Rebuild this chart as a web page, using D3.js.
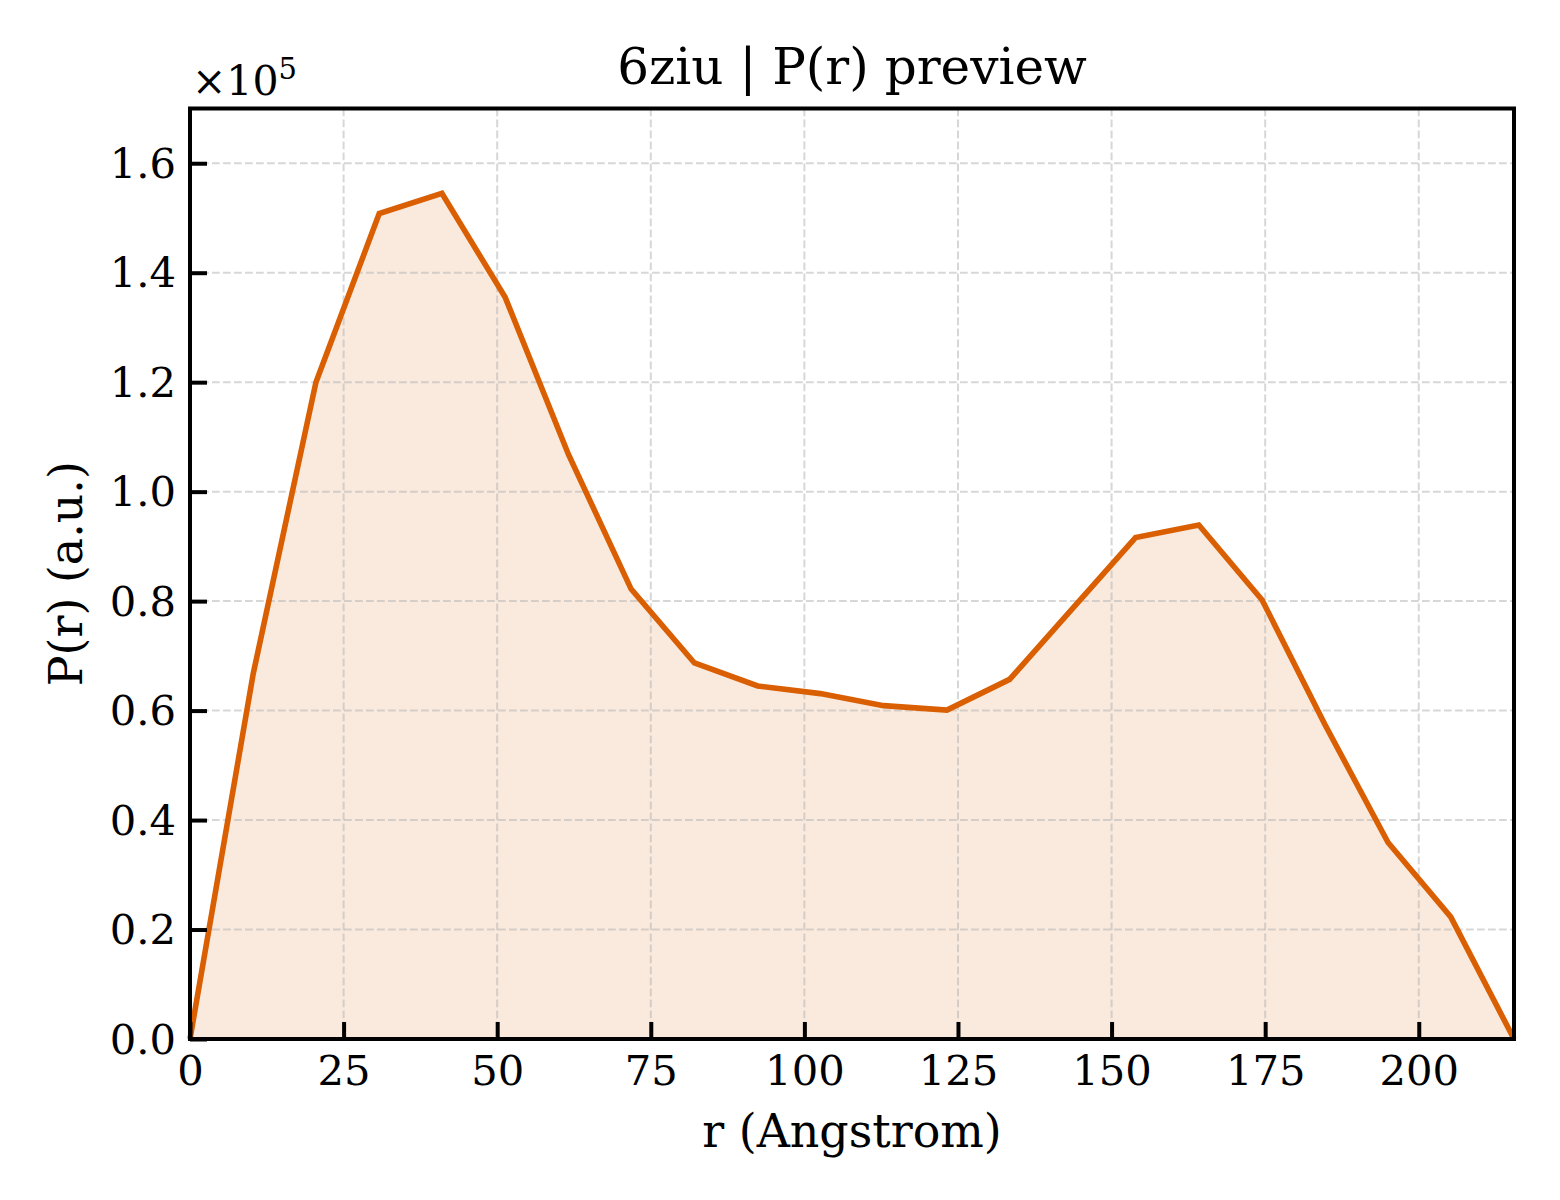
<!DOCTYPE html>
<html>
<head>
<meta charset="utf-8">
<script src="https://cdn.jsdelivr.net/npm/d3@7"></script>
<style>
  html, body { margin: 0; padding: 0; background: #fff; }
  svg { display: block; }
  text { font-family: "DejaVu Serif", serif; fill: #000; }
</style>
</head>
<body>
<svg id="chart" width="1560" height="1200"></svg>
<script>
// ---- data ----
const rValues = [0, 10.3, 20.5, 30.8, 41.0, 51.3, 61.6, 71.8, 82.1, 92.4, 102.6,
                 112.9, 123.2, 133.4, 143.7, 153.9, 164.2, 174.5, 184.7, 195.0, 205.2, 215.5];
const prValues = [0, 66800, 120000, 150800, 154500, 135500, 106800, 82200, 68700, 64500, 63100,
                  60900, 60100, 65700, 78700, 91600, 93900, 80200, 57500, 35900, 22300, 0];
const xTicks = [0, 25, 50, 75, 100, 125, 150, 175, 200];
const yTicks = [0, 20000, 40000, 60000, 80000, 100000, 120000, 140000, 160000];
const titleText = "6ziu | P(r) preview";
const xLabel = "r (Angstrom)";
const yLabel = "P(r) (a.u.)";

const data = rValues.map((r, i) => ({ r, p: prValues[i] }));

// ---- layout ----
const svg = d3.select("#chart");
const L = 190, R = 1514, T = 108.5, B = 1039;
const color = "#d95f02";
const fontFam = "DejaVu Serif, serif";

const x = d3.scaleLinear().domain([0, 215.5]).range([L, R]);
const y = d3.scaleLinear().domain([0, 170000]).range([B, T]);

// fill
svg.append("path")
  .datum(data)
  .attr("d", d3.area().x(d => x(d.r)).y0(y(0)).y1(d => y(d.p)))
  .attr("fill", color)
  .attr("fill-opacity", 0.13);

// grid
const grid = svg.append("g");
grid.selectAll("line.v").data(xTicks).join("line")
  .attr("x1", d => x(d)).attr("x2", d => x(d))
  .attr("y1", T).attr("y2", B);
grid.selectAll("line.h").data(yTicks).join("line")
  .attr("x1", L).attr("x2", R)
  .attr("y1", d => y(d)).attr("y2", d => y(d));
grid.selectAll("line")
  .attr("stroke", "#b0b0b0")
  .attr("stroke-opacity", 0.5)
  .attr("stroke-width", 2)
  .attr("stroke-dasharray", "7.7,3.3");

// line
svg.append("path")
  .datum(data)
  .attr("d", d3.line().x(d => x(d.r)).y(d => y(d.p)))
  .attr("fill", "none")
  .attr("stroke", color)
  .attr("stroke-width", 5.6)
  .attr("stroke-linejoin", "miter");

// axes
const xAxis = svg.append("g")
  .attr("transform", `translate(0,${B})`)
  .call(d3.axisBottom(x).tickValues(xTicks).tickFormat(d3.format("d"))
    .tickSizeInner(-17).tickSizeOuter(0).tickPadding(16));
const yAxis = svg.append("g")
  .attr("transform", `translate(${L},0)`)
  .call(d3.axisLeft(y).tickValues(yTicks).tickFormat(d => d3.format(".1f")(d / 1e5))
    .tickSizeInner(-17).tickSizeOuter(0).tickPadding(14));
[xAxis, yAxis].forEach(g => {
  g.select(".domain").remove();
  g.selectAll(".tick line").attr("stroke", "#000").attr("stroke-width", 4);
  g.selectAll(".tick text").attr("font-family", fontFam).attr("font-size", 41.7).attr("fill", "#000");
});
xAxis.selectAll(".tick text").attr("dy", "0.71em");
yAxis.selectAll(".tick text").attr("dy", "0.34em");

// frame
svg.append("rect")
  .attr("x", L).attr("y", T).attr("width", R - L).attr("height", B - T)
  .attr("fill", "none").attr("stroke", "#000").attr("stroke-width", 4);

// offset text
const off = svg.append("text")
  .attr("x", L + 2).attr("y", 95)
  .attr("font-size", 41).attr("font-family", fontFam);
off.append("tspan").text("×10");
off.append("tspan").attr("font-size", 29).attr("dy", -16).text("5");

// title
svg.append("text")
  .attr("x", (L + R) / 2).attr("y", 84)
  .attr("text-anchor", "middle")
  .attr("font-size", 50).attr("font-family", fontFam)
  .text(titleText);

// x label
svg.append("text")
  .attr("x", (L + R) / 2).attr("y", 1147)
  .attr("text-anchor", "middle")
  .attr("font-size", 45.9).attr("font-family", fontFam)
  .text(xLabel);

// y label
svg.append("text")
  .attr("transform", `translate(82,${(T + B) / 2}) rotate(-90)`)
  .attr("text-anchor", "middle")
  .attr("font-size", 45.9).attr("font-family", fontFam)
  .text(yLabel);
</script>
</body>
</html>
